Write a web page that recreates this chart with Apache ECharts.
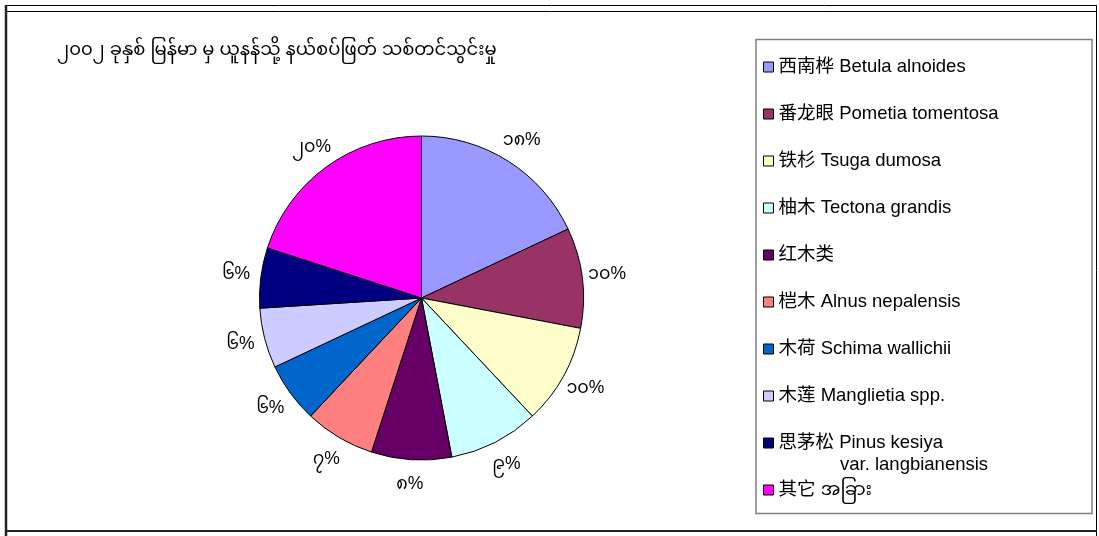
<!DOCTYPE html>
<html>
<head>
<meta charset="utf-8">
<script src="https://cdn.jsdelivr.net/npm/echarts@6/dist/echarts.min.js"></script>
<style>
  html, body { margin: 0; padding: 0; background: #fff; }
  #main { width: 1099px; height: 536px; }
</style>
</head>
<body>
<div id="main"></div>
<script>
// 2002 timber imports from Myanmar to Yunnan, share by species
const titleText = '၂၀၀၂ ခုနှစ် မြန်မာ မှ ယူနန်သို့ နယ်စပ်ဖြတ် သစ်တင်သွင်းမှု'
const species = [
  '西南桦 Betula alnoides',
  '番龙眼 Pometia tomentosa',
  '铁杉 Tsuga dumosa',
  '柚木 Tectona grandis',
  '红木类',
  '桤木 Alnus nepalensis',
  '木荷 Schima wallichii',
  '木莲 Manglietia spp.',
  '思茅松 Pinus kesiya',
  '其它 အခြား'
]
const shares = [18, 10, 10, 9, 8, 7, 6, 6, 6, 20]
const colors = ['#9999FF', '#993366', '#FFFFCC', '#CCFFFF', '#660066',
  '#FF8080', '#0066CC', '#CCCCFF', '#000080', '#FF00FF']
const myDigits = ['၀', '၁', '၂', '၃', '၄', '၅', '၆', '၇', '၈', '၉']

const FONT = '"Liberation Sans", Arial, "Noto Sans Myanmar", "Noto Sans CJK SC", sans-serif'
const CENTER = [421.5, 298]
const R = 162
const LABEL_R = 184

function toMyanmar(n) {
  return String(n).split('').map(d => myDigits[+d] || d).join('')
}

const pieData = species.map((name, i) => ({ name, value: shares[i] }))

const chart = echarts.init(document.getElementById('main'), null, { renderer: 'canvas' })

const option = {
  animation: false,
  backgroundColor: '#fff',
  color: colors,
  title: {
    text: titleText,
    left: 52,
    top: 36,
    textStyle: {
      fontFamily: FONT,
      fontSize: 18,
      fontWeight: 'normal',
      color: '#000'
    }
  },
  legend: {
    orient: 'vertical',
    left: 758,
    top: 52,
    itemWidth: 10,
    itemHeight: 10,
    itemGap: 27,
    icon: 'rect',
    itemStyle: {
      borderColor: '#000',
      borderWidth: 1
    },
    textStyle: {
      fontFamily: FONT,
      fontSize: 18.5,
      lineHeight: 20,
      color: '#000'
    },
    data: species
  },
  graphic: [
    // outer frame
    { type: 'line', shape: { x1: 6, y1: 5.5, x2: 1097, y2: 5.5 }, style: { stroke: '#000', lineWidth: 1 } },
    { type: 'line', shape: { x1: 6, y1: 11.5, x2: 1097, y2: 11.5 }, style: { stroke: '#000', lineWidth: 1 } },
    { type: 'line', shape: { x1: 6, y1: 5, x2: 6, y2: 536 }, style: { stroke: '#222', lineWidth: 2.5 } },
    { type: 'line', shape: { x1: 1096.5, y1: 5, x2: 1096.5, y2: 536 }, style: { stroke: '#000', lineWidth: 1 } },
    { type: 'line', shape: { x1: 6, y1: 531, x2: 1097, y2: 531 }, style: { stroke: '#222', lineWidth: 2 } },
    // legend box
    {
      type: 'rect',
      shape: { x: 756, y: 39.5, width: 336, height: 474 },
      style: { fill: 'none', stroke: '#808080', lineWidth: 1.5 },
      z: -1
    },
    {
      type: 'text',
      left: 840,
      top: 456,
      style: {
        text: 'var. langbianensis',
        fontFamily: FONT,
        fontSize: 18.5,
        fill: '#000'
      }
    }
  ],
  series: [{
    type: 'pie',
    center: CENTER,
    radius: R,
    startAngle: 90,
    clockwise: true,
    itemStyle: {
      borderColor: '#000',
      borderWidth: 1
    },
    label: { show: false },
    labelLine: { show: false },
    emphasis: { disabled: true },
    data: pieData
  }, {
    // transparent helper ring: its inside labels sit centred at LABEL_R
    type: 'pie',
    center: CENTER,
    radius: [0, LABEL_R * 2],
    startAngle: 90,
    clockwise: true,
    silent: true,
    z: 3,
    itemStyle: {
      color: 'rgba(0,0,0,0)',
      borderWidth: 0
    },
    label: {
      show: true,
      position: 'inside',
      overflow: 'none',
      fontFamily: FONT,
      fontSize: 17.5,
      color: '#000',
      formatter: p => toMyanmar(p.value) + '%'
    },
    labelLine: { show: false },
    emphasis: { disabled: true },
    data: pieData
  }]
}

chart.setOption(option)
</script>
</body>
</html>
